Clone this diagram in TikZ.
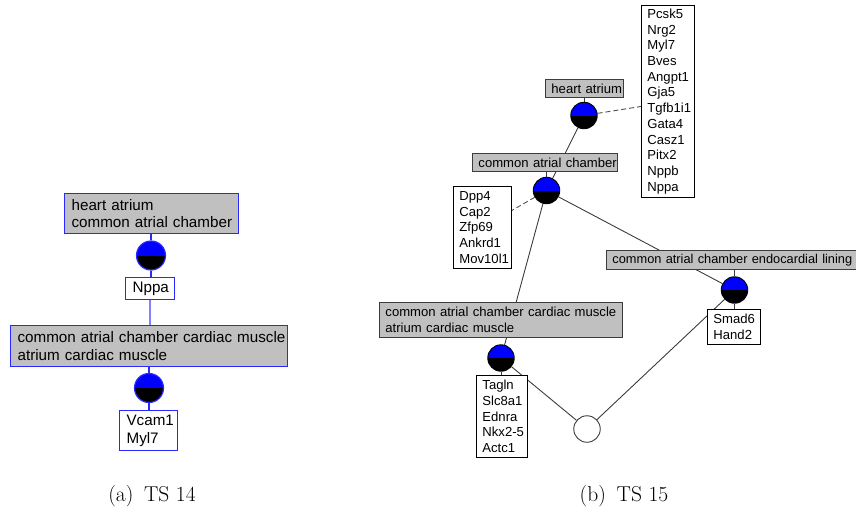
\documentclass[tikz,border=0pt]{standalone}
\usepackage{fontspec}
\newfontfamily\javafont{Liberation Sans}
\usetikzlibrary{backgrounds}
\definecolor{boxgray}{RGB}{192,192,192}
\definecolor{lblue}{RGB}{40,40,255}
\definecolor{paleblue}{RGB}{130,130,255}
\definecolor{edgegray}{RGB}{60,60,60}
\definecolor{dashgray}{RGB}{80,80,80}
\tikzset{
  halfcirc/.style={circle, inner sep=0pt, fill=white,
    path picture={
      \fill[blue] (path picture bounding box.north west) rectangle (path picture bounding box.east);
      \fill[black] (path picture bounding box.west) rectangle (path picture bounding box.south east);
    }},
  lcirc/.style={halfcirc, draw=lblue, line width=1.2pt, minimum size=29pt},
  rcirc/.style={halfcirc, draw=black, line width=0.9pt, minimum size=26.5pt},
  wcirc/.style={circle, inner sep=0pt, draw=edgegray, line width=0.9pt, fill=white, minimum size=26.5pt},
  lfont/.style={font=\javafont\fontsize{15.2}{17.6}\selectfont},
  rfont/.style={font=\javafont\fontsize{13.1}{15.7}\selectfont},
  lterm/.style={lfont, draw=lblue, fill=boxgray, line width=1.2pt, anchor=north west,
    inner xsep=7pt, inner ysep=0pt, align=left},
  lgene/.style={lterm, fill=white},
  rterm/.style={rfont, draw=edgegray, fill=boxgray, line width=0.9pt, anchor=north west,
    inner xsep=6pt, inner ysep=0pt, align=left},
  rgene/.style={rterm, draw=black, fill=white},
  tick/.style={draw=lblue, line width=1.2pt},
  edge/.style={draw=edgegray, line width=0.9pt},
  dashedge/.style={draw=dashgray, line width=0.9pt, dashed, dash pattern=on 5pt off 3pt},
  captext/.style={font=\fontsize{21.5}{24}\selectfont, inner sep=0pt},
}
\begin{document}
\begin{tikzpicture}[x=1pt,y=-1pt]
\useasboundingbox (0,0) rectangle (856,514);

% ---------- (a) TS 14 ----------
\node[lterm, minimum width=174pt, text width=160pt, minimum height=40pt] (LA) at (64,193)
  {\mbox{heart atrium}\\\mbox{common atrial chamber}};
\node[lcirc] (LC1) at (151,255.5) {};
\node[lgene, minimum width=49pt, text width=35pt, minimum height=22pt] (Nppa) at (125,277) {\mbox{Nppa}};
\node[lterm, minimum width=277pt, text width=263pt, minimum height=41pt] (LB) at (10,325)
  {\mbox{common atrial chamber cardiac muscle}\\\mbox{atrium cardiac muscle}};
\node[lcirc] (LC2) at (149,388) {};
\node[lgene, minimum width=58pt, text width=44pt, minimum height=40pt] (Vcam) at (119,410)
  {\mbox{Vcam1}\\\mbox{Myl7}};

\begin{pgfonlayer}{background}
\draw[tick] (LC1.north) -- (LC1.north |- LA.south);
\draw[tick] (LC1.south) -- (LC1.south |- Nppa.north);
\draw[draw=paleblue, line width=1.5pt] (Nppa.south) -- (Nppa.south |- LB.north);
\draw[tick] (LC2.north) -- (LC2.north |- LB.south);
\draw[tick] (LC2.south) -- (LC2.south |- Vcam.north);
\end{pgfonlayer}

\node[captext] (capA) at (152,496) {(a)\hspace{0.5em}TS 14};

% ---------- (b) TS 15 ----------
\node[rterm, minimum width=78pt, text width=66pt, minimum height=18pt] (RA) at (545,79) {\mbox{heart atrium}};
\node[rcirc] (RC1) at (584,115.5) {};
\node[rgene, minimum width=53pt, text width=41pt, minimum height=192pt] (G1) at (641,5)
  {\mbox{Pcsk5}\\\mbox{Nrg2}\\\mbox{Myl7}\\\mbox{Bves}\\\mbox{Angpt1}\\\mbox{Gja5}\\\mbox{Tgfb1i1}\\\mbox{Gata4}\\\mbox{Casz1}\\\mbox{Pitx2}\\\mbox{Nppb}\\\mbox{Nppa}};
\node[rterm, minimum width=145pt, text width=133pt, minimum height=18pt] (RB) at (472,153) {\mbox{common atrial chamber}};
\node[rcirc] (RC2) at (546.5,190.5) {};
\node[rgene, minimum width=58pt, text width=46pt, minimum height=82pt] (Dpp) at (453,186)
  {\mbox{Dpp4}\\\mbox{Cap2}\\\mbox{Zfp69}\\\mbox{Ankrd1}\\\mbox{Mov10l1}};
\node[rterm, font=\javafont\fontsize{12.8}{15.7}\selectfont, minimum width=264pt, text width=252pt, minimum height=19pt] (RD) at (606,250)
  {\mbox{common atrial chamber endocardial lining}};
\node[rcirc] (RC4) at (734.5,290) {};
\node[rgene, minimum width=53pt, text width=41pt, minimum height=35pt] (Smad) at (707,309)
  {\mbox{Smad6}\\\mbox{Hand2}};
\node[rterm, minimum width=243pt, text width=231pt, minimum height=35pt] (RE) at (379,302)
  {\mbox{common atrial chamber cardiac muscle}\\\mbox{atrium cardiac muscle}};
\node[rcirc] (RC3) at (501,358) {};
\node[rgene, minimum width=51pt, text width=39pt, minimum height=82pt] (Tag) at (476,375)
  {\mbox{Tagln}\\\mbox{Slc8a1}\\\mbox{Ednra}\\\mbox{Nkx2-5}\\\mbox{Actc1}};
\node[wcirc] (RW) at (587,429) {};

\begin{pgfonlayer}{background}
\draw[edge] (RC1.north) -- (RC1.north |- RA.south);
\draw[edge] (RC2.north) -- (RC2.north |- RB.south);
\draw[edge] (RC4.north) -- (RC4.north |- RD.south);
\draw[edge] (RC4.south) -- (RC4.south |- Smad.north);
\draw[edge] (RC3.south) -- (RC3.south |- Tag.north);
\draw[edge] (RC1) -- (RC2);
\draw[edge] (RC2) -- (RC3);
\draw[edge] (RC2) -- (RC4);
\draw[edge] (RC3) -- (RW);
\draw[edge] (RC4) -- (RW);
\draw[dashedge] (RC1) -- ([yshift=-5pt]G1.west);
\draw[dashedge] (RC2) -- ([yshift=17pt]Dpp.east);
\end{pgfonlayer}

\node[captext] (capB) at (624,496) {(b)\hspace{0.5em}TS 15};
\end{tikzpicture}
\end{document}
